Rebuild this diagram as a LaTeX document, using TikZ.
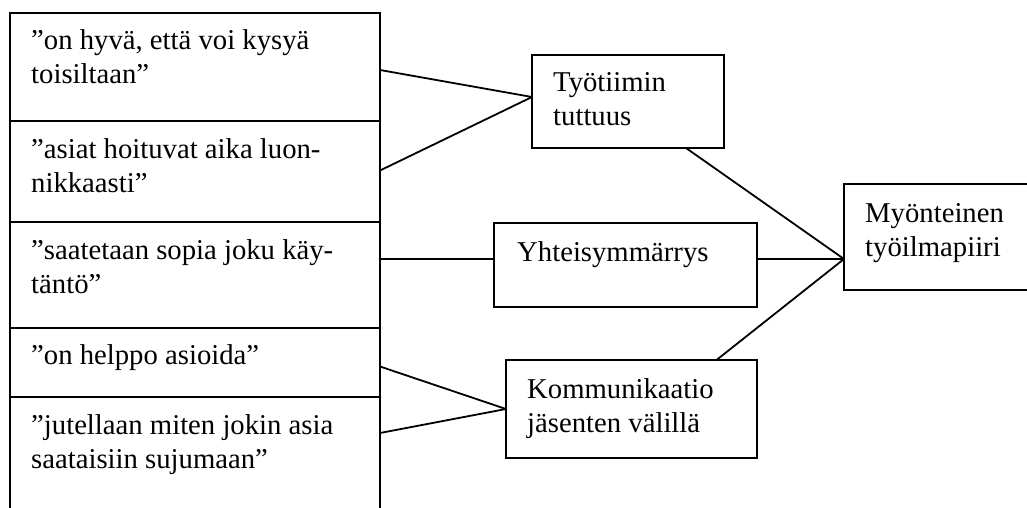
\documentclass[tikz,border=0pt]{standalone}
\usepackage{fontspec}
\setmainfont{Liberation Serif}
% two lines of text whose baseline is that of the first line
\newcommand{\twolines}[2]{\vtop{\hbox{#1}\hbox{#2}}}
\begin{document}
\begin{tikzpicture}[x=1pt,y=-1pt,
  box/.style={draw, line width=1.8pt, inner sep=0pt, outer sep=0pt, anchor=north west},
  txt/.style={anchor=base west, inner sep=0pt,
    font=\fontsize{28.7}{34}\selectfont},
  link/.style={line width=1.8pt}]
\useasboundingbox (0,0) rectangle (1027,508);
\clip (0,0) rectangle (1027,508);
\fill[white] (0,0) rectangle (1027,508);

% quotation column
\node[box, minimum width=370pt, minimum height=108pt] (q1) at (10,13) {};
\node[box, minimum width=370pt, minimum height=101pt] (q2) at (10,121) {};
\node[box, minimum width=370pt, minimum height=106pt] (q3) at (10,222) {};
\node[box, minimum width=370pt, minimum height=69pt]  (q4) at (10,328) {};
\node[box, minimum width=370pt, minimum height=140pt] (q5) at (10,397) {};

\node[txt] (q1t) at (31,50)  {\twolines{”on hyvä, että voi kysyä}{toisiltaan”}};
\node[txt] (q2t) at (31,158) {\twolines{”asiat hoituvat aika luon-}{nikkaasti”}};
\node[txt] (q3t) at (31,259) {\twolines{”saatetaan sopia joku käy-}{täntö”}};
\node[txt] (q4t) at (31,364) {”on helppo asioida”};
\node[txt] (q5t) at (31,434) {\twolines{”jutellaan miten jokin asia}{saataisiin sujumaan”}};

% themes
\node[box, minimum width=192pt, minimum height=93pt] (t) at (532,55) {};
\node[txt] (tt) at (553,92) {\twolines{Työtiimin}{tuttuus}};
\node[box, minimum width=263pt, minimum height=84pt] (y) at (494,223) {};
\node[txt] (yt) at (517,261) {Yhteisymmärrys};
\node[box, minimum width=251pt, minimum height=98pt] (k) at (506,360) {};
\node[txt] (kt) at (527,398) {\twolines{Kommunikaatio}{jäsenten välillä}};

% outcome
\node[box, minimum width=200pt, minimum height=106pt] (m) at (844,184) {};
\node[txt] (mt) at (865,222) {\twolines{Myönteinen}{työilmapiiri}};
\coordinate (hub) at (844,259);

% connectors
\draw[link] ([yshift=-3pt]q1.east) -- ([yshift=4.5pt]t.west);
\draw[link] ([yshift=1pt]q2.east) -- ([yshift=4.5pt]t.west);
\draw[link] (q3.east |- hub) -- (y.west |- hub);
\draw[link] (y.east |- hub) -- (hub);
\draw[link] ([yshift=-4pt]q4.east) -- (k.west);
\draw[link] ([yshift=-36pt]q5.north east) -- (k.west);
\draw[link] ([xshift=58pt]t.south) -- (hub);
\draw[link] ([xshift=85pt]k.north) -- (hub);
\end{tikzpicture}
\end{document}
